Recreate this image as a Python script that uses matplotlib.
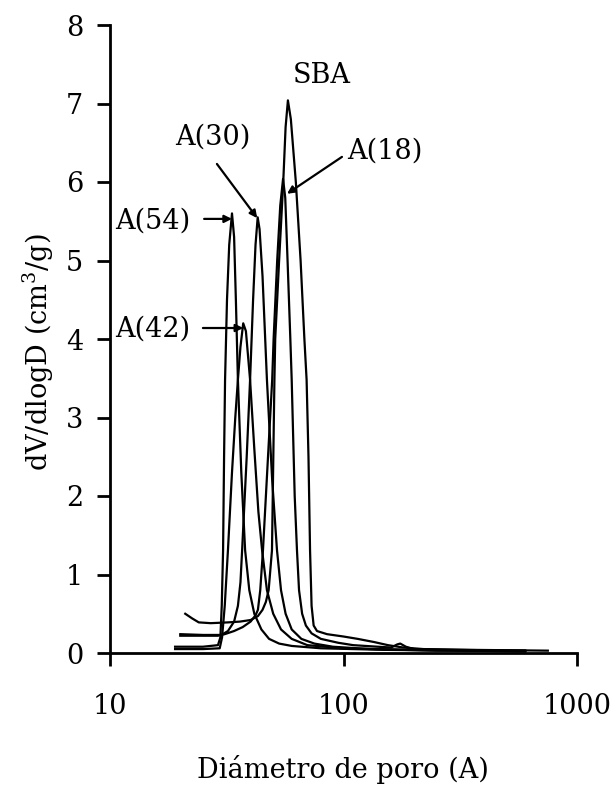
import matplotlib
matplotlib.use("Agg")
import matplotlib.pyplot as plt

plt.rcParams['font.family'] = ['DejaVu Serif']

# pore diameter (A) and dV/dlogD (cm3/g) for each sample
sba_x = [21, 22.5, 24, 27, 32, 36, 40, 43, 45, 46.5, 47.8, 49.4, 50.6, 51.0, 53.0, 55.2, 56.5, 57.8,
         59.5, 62.5, 65.5, 68.0, 69.5, 70.8, 71.9, 73.0, 74.5, 77, 85, 100, 115, 135, 155, 180, 220, 350, 750]
sba_y = [0.5, 0.44, 0.39, 0.38, 0.39, 0.4, 0.42, 0.47, 0.55, 0.65, 0.8, 1.31, 3.48, 4.0, 5.0, 6.0, 6.7, 7.04,
         6.8, 6.0, 5.0, 4.0, 3.48, 2.5, 1.31, 0.6, 0.35, 0.28, 0.24, 0.21, 0.18, 0.14, 0.1, 0.07, 0.05, 0.04, 0.03]

a18_x = [20, 25, 29, 31, 34, 37, 40, 42, 43, 44, 45.2, 47.5, 49.5, 50.2, 52, 53.6, 55.1,
         56.3, 57.6, 59.2, 60.0, 61.8, 63.2, 64.5, 66.5, 69, 73, 80, 95, 110, 140, 160, 170, 175, 185, 200, 300, 600]
a18_y = [0.22, 0.22, 0.22, 0.24, 0.28, 0.33, 0.4, 0.48, 0.55, 0.8, 1.31, 2.5, 3.48, 4.0, 5.0, 5.7, 6.04,
         5.8, 5.0, 4.0, 3.48, 2.0, 1.31, 0.8, 0.5, 0.35, 0.25, 0.18, 0.13, 0.1, 0.08, 0.07, 0.11, 0.12, 0.08, 0.05, 0.04, 0.03]

a30_x = [20, 25, 30, 32, 34, 35.3, 36.2, 36.8, 38.5, 39.8, 41.0, 42.0, 42.9, 43.7, 45.0, 47.0, 49.5, 51.9,
         54, 56.5, 60, 66, 75, 90, 130, 250, 600]
a30_y = [0.24, 0.23, 0.23, 0.28, 0.4, 0.6, 0.9, 1.31, 2.5, 3.48, 4.5, 5.2, 5.55, 5.4, 4.8, 3.48, 2.2, 1.31,
         0.8, 0.5, 0.3, 0.18, 0.12, 0.08, 0.05, 0.03, 0.03]

a54_x = [19, 25, 29, 29.7, 30.1, 30.5, 30.8, 31.1, 31.7, 32.4, 33.3, 34.0, 34.6, 35.3, 36.5, 37.9,
         39.5, 41.5, 44.5, 48, 53, 60, 80, 150, 600]
a54_y = [0.08, 0.08, 0.1, 0.2, 0.6, 1.31, 2.5, 3.48, 4.5, 5.2, 5.6, 5.3, 4.5, 3.48, 2.3, 1.31,
         0.8, 0.5, 0.3, 0.18, 0.12, 0.09, 0.06, 0.04, 0.02]

a42_x = [19, 25, 29.5, 30.2, 31, 32, 33.3, 34.4, 35.3, 36.2, 37.2, 38.2, 39.8, 41.5, 43.2, 44.8,
         47, 50, 54, 60, 70, 100, 200, 600]
a42_y = [0.05, 0.05, 0.06, 0.2, 0.6, 1.31, 2.3, 3.0, 3.48, 3.9, 4.2, 4.1, 3.48, 2.6, 1.8, 1.31,
         0.8, 0.5, 0.3, 0.18, 0.1, 0.06, 0.04, 0.02]

x_ticks = [10, 100, 1000]
x_tick_labels = ['10', '100', '1000']
y_ticks = [0, 1, 2, 3, 4, 5, 6, 7, 8]

fs = 19.5
fig = plt.figure(figsize=(6.11, 7.91), dpi=100)
ax = fig.add_axes([110 / 611, 138 / 791, 467 / 611, 628 / 791])

for xs, ys in [(sba_x, sba_y), (a18_x, a18_y), (a30_x, a30_y), (a54_x, a54_y), (a42_x, a42_y)]:
    ax.plot(xs, ys, color='black', lw=1.6, solid_joinstyle='round')

ax.set_xscale('log')
ax.set_xlim(10, 1000)
ax.set_ylim(0, 8)
ax.set_xticks(x_ticks)
ax.set_xticklabels(x_tick_labels)
ax.minorticks_off()
ax.set_yticks(y_ticks)

for s in ['top', 'right']:
    ax.spines[s].set_visible(False)
for s in ['left', 'bottom']:
    ax.spines[s].set_linewidth(2.0)

ax.tick_params(axis='y', direction='out', length=9.4, width=2.0, labelsize=fs, pad=10)
ax.tick_params(axis='x', direction='out', length=9, width=2.0, labelsize=fs, pad=20)

fig.text(343 / 611, 13 / 791, 'Diámetro de poro (A)', fontsize=fs, ha='center', va='baseline')
fig.text(38.5 / 611, (791 - 352) / 791, 'dV/dlogD (cm$^\\mathregular{3}$/g)', fontsize=fs,
         ha='center', va='center', rotation=90)

ax.text(80.9, 7.36, 'SBA', fontsize=fs, ha='center', va='center')
ax.text(27.6, 6.57, 'A(30)', fontsize=fs, ha='center', va='center')
ax.text(150.7, 6.39, 'A(18)', fontsize=fs, ha='center', va='center')
ax.text(15.3, 5.50, 'A(54)', fontsize=fs, ha='center', va='center')
ax.text(15.3, 4.13, 'A(42)', fontsize=fs, ha='center', va='center')

ap = dict(arrowstyle='-|>', lw=1.6, color='black', mutation_scale=11, shrinkA=0, shrinkB=0)
ax.annotate('', xy=(33.3, 5.53), xytext=(25.3, 5.53), arrowprops=ap)
ax.annotate('', xy=(37.2, 4.14), xytext=(25.0, 4.14), arrowprops=ap)
ax.annotate('', xy=(42.7, 5.54), xytext=(28.7, 6.23), arrowprops=ap)
ax.annotate('', xy=(57.3, 5.85), xytext=(98.5, 6.32), arrowprops=ap)

fig.savefig('out.png', dpi=100)
